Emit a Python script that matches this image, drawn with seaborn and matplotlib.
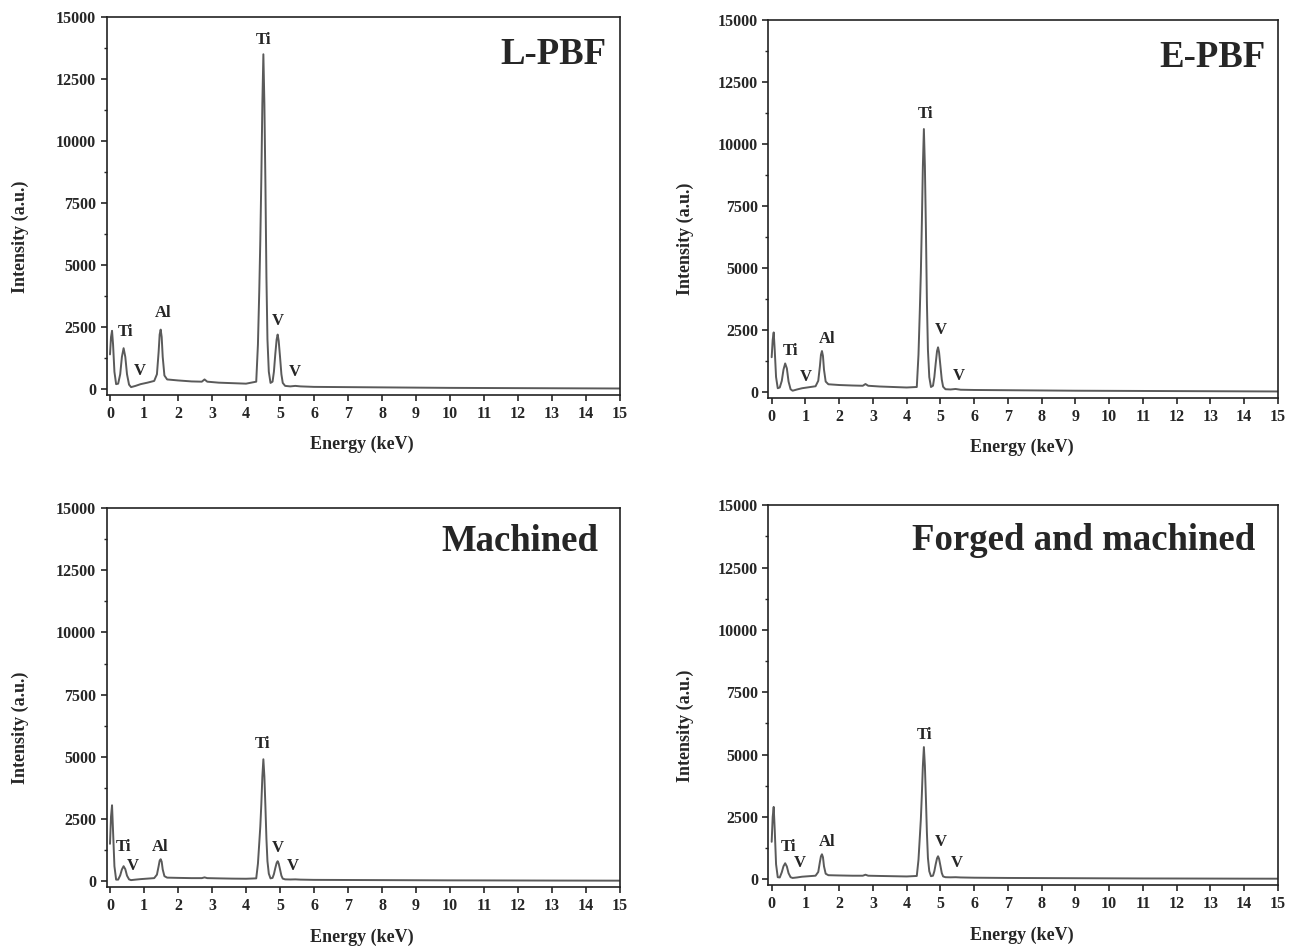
import pandas as pd
import seaborn as sns
import matplotlib.pyplot as plt
from matplotlib.ticker import MultipleLocator

# energy grid shared by the four EDS spectra (keV)
energy = [0.00, 0.03, 0.06, 0.09, 0.13, 0.18, 0.24, 0.30, 0.35, 0.40,
          0.45, 0.50, 0.56, 0.62, 0.75, 0.90, 1.10, 1.30, 1.38, 1.43,
          1.46, 1.49, 1.52, 1.55, 1.60, 1.68, 2.00, 2.40, 2.70, 2.78,
          2.86, 3.20, 3.60, 4.00, 4.30, 4.35, 4.39, 4.42, 4.45, 4.48,
          4.51, 4.54, 4.57, 4.60, 4.63, 4.67, 4.72, 4.78, 4.82, 4.86,
          4.90, 4.93, 4.96, 5.00, 5.04, 5.08, 5.15, 5.30, 5.45, 5.60,
          6.00, 7.00, 8.00, 9.00, 10.00, 11.00, 12.00, 13.00, 14.00, 15.00]

lpbf = [1400, 2100, 2350, 1800, 700, 200, 220, 600, 1300, 1650,
        1300, 600, 180, 80, 130, 200, 260, 330, 600, 1500,
        2200, 2400, 2100, 1300, 550, 390, 350, 310, 300, 390,
        300, 260, 240, 220, 300, 1800, 4000, 6000, 8500, 11500,
        13500, 11500, 8300, 4500, 2000, 700, 250, 300, 700, 1400,
        2000, 2200, 1950, 1300, 600, 250, 130, 110, 130, 110,
        90, 80, 70, 60, 50, 45, 40, 35, 30, 25]

epbf = [1400, 2100, 2400, 1700, 600, 150, 180, 450, 900, 1150,
        950, 420, 110, 50, 100, 150, 190, 230, 450, 1050,
        1500, 1650, 1450, 900, 420, 310, 280, 260, 250, 320,
        250, 220, 200, 180, 200, 1500, 3300, 4800, 6800, 9100,
        10600, 9100, 6600, 3600, 1700, 600, 200, 250, 600, 1150,
        1650, 1800, 1600, 1050, 500, 210, 110, 100, 120, 90,
        80, 70, 60, 50, 45, 40, 35, 30, 25, 20]

machined = [1500, 2600, 3050, 2000, 600, 60, 60, 230, 470, 600,
            480, 220, 70, 40, 60, 80, 100, 120, 260, 600,
            820, 880, 780, 470, 200, 140, 130, 120, 120, 150,
            120, 110, 100, 95, 110, 700, 1550, 2200, 3100, 4200,
            4900, 4200, 3000, 1700, 800, 300, 110, 130, 280, 520,
            730, 800, 710, 470, 220, 100, 70, 65, 70, 60,
            50, 45, 40, 35, 30, 28, 25, 22, 20, 18]

forged = [1500, 2500, 2900, 2000, 600, 80, 70, 280, 520, 640,
          510, 240, 80, 50, 70, 100, 120, 140, 290, 700,
          920, 1000, 880, 520, 220, 160, 150, 140, 140, 180,
          140, 130, 120, 110, 130, 780, 1700, 2400, 3400, 4550,
          5300, 4550, 3250, 1850, 850, 320, 120, 140, 320, 600,
          840, 920, 820, 540, 250, 110, 80, 75, 80, 70,
          60, 50, 45, 40, 35, 30, 28, 25, 22, 20]

titles = ['L-PBF', 'E-PBF', 'Machined', 'Forged and machined']
title_pos = [(13.05, 13500), (13.07, 13500), (12.04, 13650), (9.23, 13600)]

peak_labels = ['Ti', 'V', 'Al', 'Ti', 'V', 'V']
label_pos = [
    [(0.47, 2300), (0.89, 725), (1.57, 3060), (4.50, 14070), (4.94, 2740), (5.44, 690)],
    [(0.56, 1650), (1.00, 600), (1.63, 2130), (4.57, 11220), (5.02, 2490), (5.55, 640)],
    [(0.41, 1370), (0.68, 600), (1.48, 1370), (4.47, 5500), (4.94, 1330), (5.38, 600)],
    [(0.50, 1280), (0.83, 640), (1.63, 1480), (4.54, 5800), (5.02, 1480), (5.50, 640)],
]

spectra = [lpbf, epbf, machined, forged]

sns.set_theme(style='ticks')
plt.rcParams['font.family'] = ['Liberation Serif', 'DejaVu Serif']
plt.rcParams['font.weight'] = 'bold'
plt.rcParams['axes.labelweight'] = 'bold'

fig = plt.figure(figsize=(13, 9.48), dpi=100)
boxes = [[0.082, 0.583, 0.395, 0.399],
         [0.591, 0.580, 0.392, 0.399],
         [0.082, 0.064, 0.395, 0.400],
         [0.591, 0.066, 0.392, 0.401]]
ylab_x = [-0.152, -0.145, -0.152, -0.145]

for i in range(4):
	ax = fig.add_axes(boxes[i])
	df = pd.DataFrame({'Energy': energy, 'Intensity': spectra[i]})
	sns.lineplot(data=df, x='Energy', y='Intensity', ax=ax, color='#5a5a5a', linewidth=1.4)
	ax.set_xlim(-0.1, 15)
	ax.set_ylim(-250, 15000)
	ax.xaxis.set_major_locator(MultipleLocator(1))
	ax.yaxis.set_major_locator(MultipleLocator(2500))
	ax.yaxis.set_minor_locator(MultipleLocator(1250))
	ax.tick_params(axis='both', which='major', direction='out', length=4, width=1.2, labelsize=11.5)
	ax.tick_params(axis='y', which='minor', direction='out', length=2.5, width=1)
	for s in ax.spines.values():
		s.set_linewidth(1.2)
		s.set_color('#222222')
	for lab in ax.get_xticklabels() + ax.get_yticklabels():
		lab.set_fontweight('bold')
	ax.set_xlabel('Energy (keV)', fontsize=13, fontweight='bold')
	ax.set_ylabel('Intensity (a.u.)', fontsize=13, fontweight='bold')
	ax.xaxis.set_label_coords(0.497, -0.108)
	ax.yaxis.set_label_coords(ylab_x[i], 0.42)
	ax.text(title_pos[i][0], title_pos[i][1], titles[i], fontsize=26.5, fontweight='bold',
		ha='center', va='center')
	for lab, (px, py) in zip(peak_labels, label_pos[i]):
		ax.text(px, py, lab, fontsize=12, fontweight='bold', ha='center', va='center')

fig.savefig('out.png', dpi=100)
